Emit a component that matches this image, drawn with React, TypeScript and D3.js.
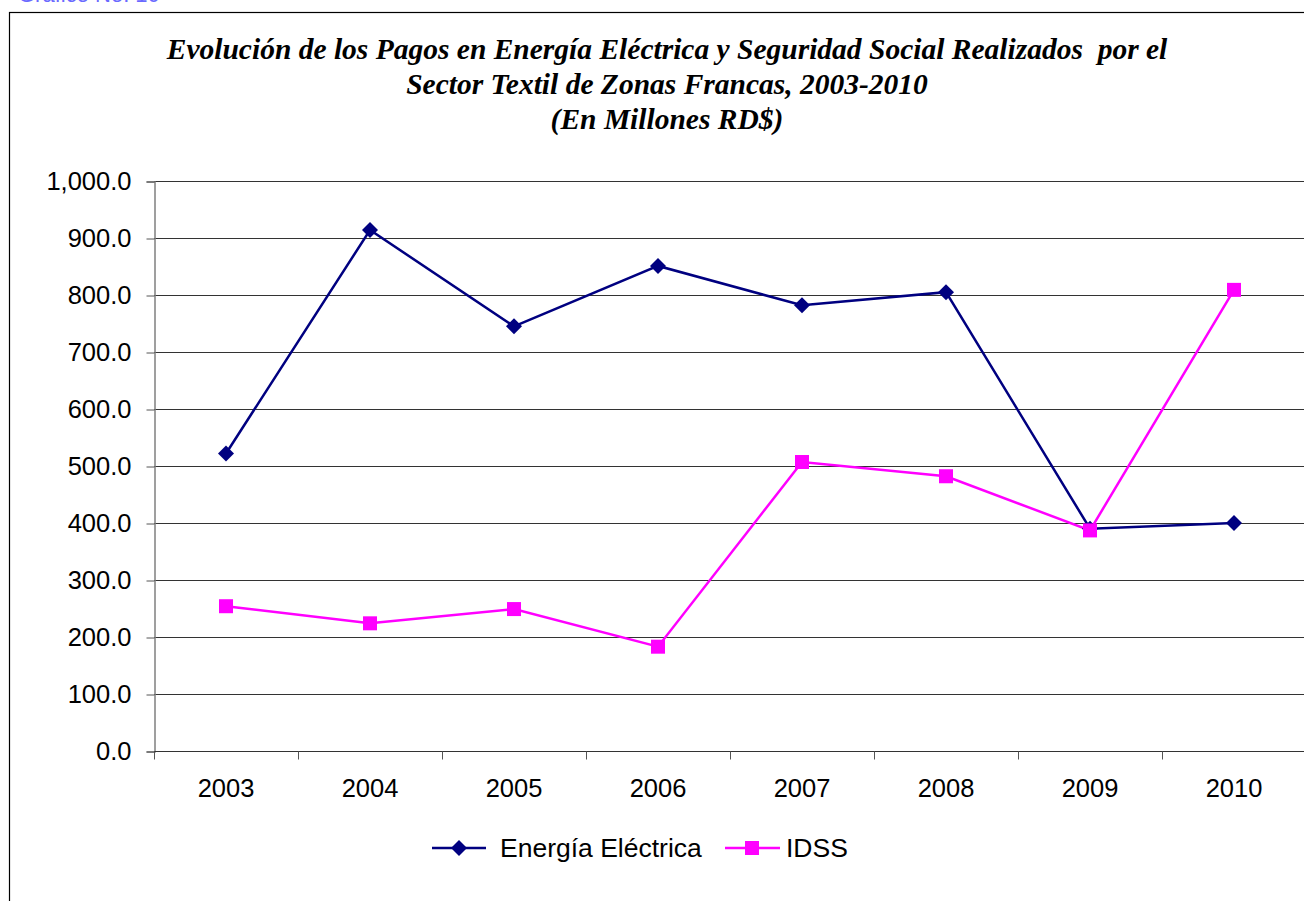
import React, { useEffect, useRef } from 'react';
import * as d3 from 'd3';

const years = ['2003', '2004', '2005', '2006', '2007', '2008', '2009', '2010'];
const energia = [522, 914, 745, 851, 782, 805, 390, 400];
const idss = [254, 224, 249, 183, 507, 482, 387, 809];
const yTicks = [0, 100, 200, 300, 400, 500, 600, 700, 800, 900, 1000];
const titleLines = [
  'Evolución de los Pagos en Energía Eléctrica y Seguridad Social Realizados  por el',
  'Sector Textil de Zonas Francas, 2003-2010',
  '(En Millones RD$)',
];

const W = 1304;
const H = 901;
const sans = 'Arial, "Liberation Sans", sans-serif';

const App: React.FC = () => {
  const ref = useRef<SVGSVGElement>(null);

  useEffect(() => {
    if (!ref.current) return;
    const svg = d3.select(ref.current);
    svg.selectAll('*').remove();

    const margin = { top: 181, left: 154, bottom: 751, right: 1306 };

    // caption, mostly above the visible page
    svg.append('text')
      .attr('x', 18)
      .attr('y', 2)
      .attr('font-family', sans)
      .attr('font-size', '22px')
      .attr('fill', '#6a6aff')
      .text('Gráfico No. 10');

    // chart border
    svg.append('rect')
      .attr('x', 9.5)
      .attr('y', 12.5)
      .attr('width', 1330)
      .attr('height', 1000)
      .attr('fill', 'white')
      .attr('stroke', 'black')
      .attr('stroke-width', 1.2);

    // title
    const title = svg.append('text')
      .attr('text-anchor', 'middle')
      .attr('font-family', '"Liberation Serif", "Times New Roman", serif')
      .attr('font-weight', 'bold')
      .attr('font-style', 'italic')
      .attr('font-size', '29.5px')
      .attr('fill', 'black')
      .style('white-space', 'pre');
    titleLines.forEach((t, i) => {
      title.append('tspan')
        .attr('x', 667)
        .attr('y', 59 + i * 35)
        .text(t);
    });

    const x = d3.scaleBand<string>()
      .domain(years)
      .range([margin.left, margin.right]);

    const y = d3.scaleLinear()
      .domain([0, 1000])
      .range([margin.bottom, margin.top]);

    // gridlines
    svg.append('g')
      .selectAll('line')
      .data(yTicks.slice(1))
      .enter()
      .append('line')
      .attr('x1', margin.left)
      .attr('x2', margin.right)
      .attr('y1', d => Math.round(y(d)) + 0.5)
      .attr('y2', d => Math.round(y(d)) + 0.5)
      .attr('stroke', '#333')
      .attr('stroke-width', 1.2);

    // y axis
    const yAxis = svg.append('g')
      .attr('transform', `translate(${margin.left + 0.5},0.5)`)
      .call(
        d3.axisLeft(y)
          .tickValues(yTicks)
          .tickSize(8)
          .tickPadding(15)
          .tickFormat(d => d3.format(',.1f')(d as number))
      );
    yAxis.select('.domain').attr('stroke', '#808080').attr('stroke-width', 1.5);
    yAxis.selectAll('.tick line').attr('stroke', '#555');
    yAxis.selectAll('.tick text')
      .attr('font-family', sans)
      .attr('font-size', '25.5px')
      .attr('fill', 'black');

    // x axis
    const xAxisG = svg.append('g')
      .attr('transform', `translate(0,${Math.round(y(0)) + 0.5})`);
    xAxisG.append('line')
      .attr('x1', margin.left)
      .attr('x2', margin.right)
      .attr('stroke', '#333')
      .attr('stroke-width', 1.2);
    xAxisG.selectAll('.xtick')
      .data(years.concat(['end']))
      .enter()
      .append('line')
      .attr('x1', (d, i) => Math.round(margin.left + i * x.bandwidth()) + 0.5)
      .attr('x2', (d, i) => Math.round(margin.left + i * x.bandwidth()) + 0.5)
      .attr('y1', 0)
      .attr('y2', 8)
      .attr('stroke', '#555');
    xAxisG.selectAll('.xlabel')
      .data(years)
      .enter()
      .append('text')
      .attr('x', d => x(d)! + x.bandwidth() / 2)
      .attr('y', 45)
      .attr('text-anchor', 'middle')
      .attr('font-family', sans)
      .attr('font-size', '25.5px')
      .attr('fill', 'black')
      .text(d => d);

    const cx = (i: number) => x(years[i])! + x.bandwidth() / 2;
    const line = d3.line<number>()
      .x((d, i) => cx(i))
      .y(d => y(d));

    const navy = '#000080';
    const magenta = '#ff00ff';

    svg.append('path')
      .datum(energia)
      .attr('d', line)
      .attr('fill', 'none')
      .attr('stroke', navy)
      .attr('stroke-width', 2.5);

    svg.append('path')
      .datum(idss)
      .attr('d', line)
      .attr('fill', 'none')
      .attr('stroke', magenta)
      .attr('stroke-width', 2.5);

    const diamond = (g: d3.Selection<SVGGElement, unknown, null, undefined>, px: number, py: number) => {
      g.append('path')
        .attr('d', `M${px},${py - 8}L${px + 8},${py}L${px},${py + 8}L${px - 8},${py}Z`)
        .attr('fill', navy);
    };
    const square = (g: d3.Selection<SVGGElement, unknown, null, undefined>, px: number, py: number) => {
      g.append('rect')
        .attr('x', px - 7)
        .attr('y', py - 7)
        .attr('width', 14)
        .attr('height', 14)
        .attr('fill', magenta);
    };

    const markersE = svg.append('g');
    energia.forEach((v, i) => diamond(markersE, cx(i), y(v)));
    const markersI = svg.append('g');
    idss.forEach((v, i) => square(markersI, cx(i), y(v)));

    // legend
    const legend = svg.append('g');
    const ly = 848;
    legend.append('line')
      .attr('x1', 432).attr('x2', 486).attr('y1', ly).attr('y2', ly)
      .attr('stroke', navy).attr('stroke-width', 2.5);
    diamond(legend, 459, ly);
    legend.append('text')
      .attr('x', 500).attr('y', ly + 9)
      .attr('font-family', sans)
      .attr('font-size', '26.5px')
      .text('Energía Eléctrica');
    legend.append('line')
      .attr('x1', 725).attr('x2', 780).attr('y1', ly).attr('y2', ly)
      .attr('stroke', magenta).attr('stroke-width', 2.5);
    square(legend, 752, ly);
    legend.append('text')
      .attr('x', 786).attr('y', ly + 9)
      .attr('font-family', sans)
      .attr('font-size', '26.5px')
      .text('IDSS');
  }, []);

  return (
    <svg
      ref={ref}
      width={W}
      height={H}
      style={{ position: 'absolute', left: 0, top: 0, background: 'white' }}
    />
  );
};

export default App;
